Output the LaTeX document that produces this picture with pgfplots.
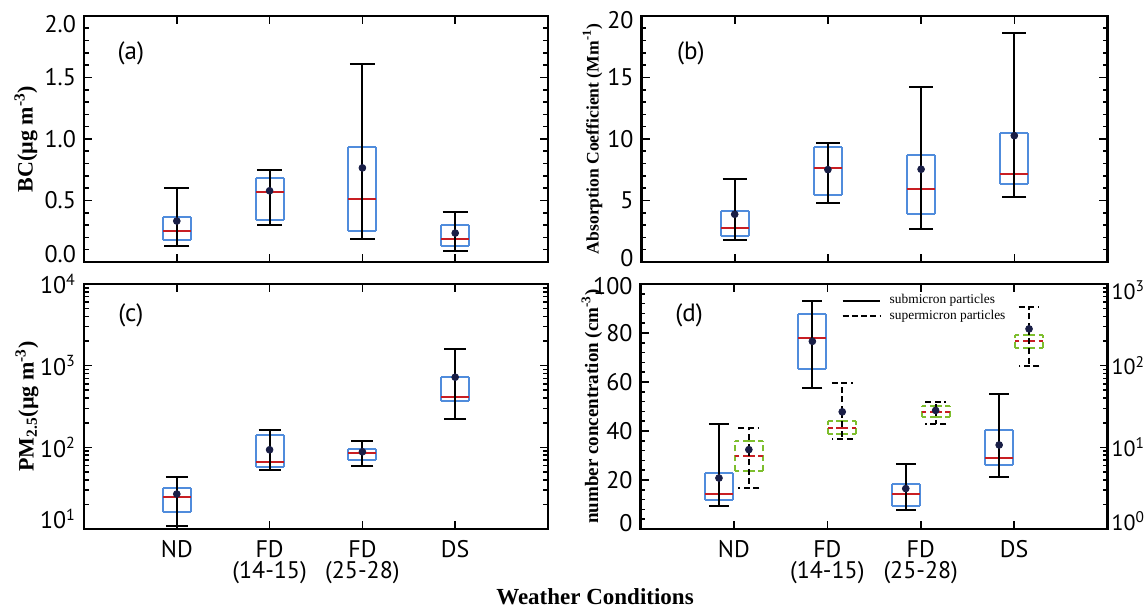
\documentclass[border=0pt]{standalone}
\usepackage{fontspec}
\setmainfont{Liberation Serif}
\newfontfamily\tickfont{PT Sans}
\usepackage{pgfplots}
\usepackage{pgfplotstable}
\pgfplotsset{compat=1.18}

\definecolor{boxblue}{RGB}{80,140,220}
\definecolor{medred}{RGB}{200,30,35}
\definecolor{supgreen}{RGB}{125,190,45}
\definecolor{meanblue}{RGB}{25,30,70}

% x = category, lo/hi = whisker ends, q1/q3 = box, med = median, mean = dot
\pgfplotstableread{
x lo    q1    med   q3    hi    mean
1 0.126 0.175 0.249 0.366 0.600 0.333
2 0.298 0.339 0.571 0.686 0.746 0.579
3 0.186 0.254 0.516 0.937 1.610 0.765
4 0.093 0.131 0.186 0.300 0.404 0.235
}\bcdata

\pgfplotstableread{
x lo   q1   med  q3    hi    mean
1 1.75 2.08 2.76 4.15  6.78  3.88
2 4.78 5.41 7.65 9.34  9.64  7.51
3 2.70 3.91 5.96 8.72  14.23 7.54
4 5.27 6.37 7.13 10.46 18.58 10.27
}\absdata

\pgfplotstableread{
x lo   q1   med  q3   hi   mean
1 10.8 16.0 24.4 32.0 43.6 26.8
2 52.7 57.8 65.9 140  165  93.3
3 59.6 69.8 84.2 95.0 121  88.2
4 221  367  419  730  1620 722
}\pmdata

\pgfplotstableread{
x lo   q1   med  q3   hi   mean
1 9.2  11.9 14.3 22.8 42.7 20.8
2 57.4 65.5 77.8 87.8 93.1 76.6
3 7.8  9.2  14.2 18.4 26.5 16.5
4 21.2 26.1 28.9 40.5 55.1 34.3
}\subdata

\pgfplotstableread{
x lo   q1   med  q3   hi   mean
1 3.19 5.19 7.91 11.9 17.1 9.37
2 12.5 14.5 17.4 21.1 61.5 27.2
3 19.4 23.7 26.7 32.5 36.4 28.3
4 100  166  198  239  529  282
}\supdata

% #1 table, #2 x shift, #3 box colour, #4 extra line style, #5 cap half length
\newcommand{\boxset}[5]{%
  \addplot[draw=none, mark=none, error bars/.cd, y dir=plus, y explicit, error mark=none,
    error bar style={draw=#3, line width=1pt, #4}]
    table[x expr=\thisrow{x}+#2-0.15, y=q1, y error expr=\thisrow{q3}-\thisrow{q1}] {#1};
  \addplot[draw=none, mark=none, error bars/.cd, y dir=plus, y explicit, error mark=none,
    error bar style={draw=#3, line width=1pt, #4}]
    table[x expr=\thisrow{x}+#2+0.15, y=q1, y error expr=\thisrow{q3}-\thisrow{q1}] {#1};
  \addplot[draw=none, mark=none, error bars/.cd, x dir=both, x fixed=0.15, error mark=none,
    error bar style={draw=#3, line width=1pt, #4}]
    table[x expr=\thisrow{x}+#2, y=q1] {#1};
  \addplot[draw=none, mark=none, error bars/.cd, x dir=both, x fixed=0.15, error mark=none,
    error bar style={draw=#3, line width=1pt, #4}]
    table[x expr=\thisrow{x}+#2, y=q3] {#1};
  \addplot[draw=none, mark=none, error bars/.cd, x dir=both, x fixed=0.15, error mark=none,
    error bar style={draw=medred, line width=1pt, #4}]
    table[x expr=\thisrow{x}+#2, y=med] {#1};
  \addplot[only marks, mark=*, mark size=1.7pt, mark options={draw=meanblue, fill=meanblue, solid},
    error bars/.cd, y dir=both, y explicit, error mark=-,
    error mark options={rotate=90, draw=black, line width=1pt, mark size=#5, #4},
    error bar style={draw=black, line width=1pt, #4}]
    table[x expr=\thisrow{x}+#2, y=mean,
      y error plus expr=\thisrow{hi}-\thisrow{mean},
      y error minus expr=\thisrow{mean}-\thisrow{lo}] {#1};
}

% shift an end tick label without changing its box
\newcommand{\up}[2]{\raisebox{#1}[\height][\depth]{#2}}

\tikzset{plabel/.style={font=\tickfont\fontsize{12.5}{14}\selectfont}}

\pgfplotsset{
  panel/.style={
    scale only axis, anchor=south west,
    xmin=0, xmax=5, xtick={1,2,3,4},
    tick align=inside, major tick length=4pt, minor tick length=2.4pt,
    axis line style={line width=1.3pt},
    tick style={black, line width=0.8pt},
    tick label style={font=\tickfont\fontsize{12}{10.5}\selectfont},
    yticklabel style={xshift=-0.5pt},
    xticklabel style={align=center, yshift=-2pt},
    xticklabels={},
  },
  catlabels/.style={xticklabels={ND, FD\\(14-15), FD\\(25-28), DS}},
}

\begin{document}
\begin{tikzpicture}
\path[use as bounding box] (0,0) rectangle (573pt,304.5pt);

% (a)
\begin{axis}[panel, at={(42pt,173.5pt)}, width=232pt, height=123pt,
  ymin=0, ymax=2, ytick={0,0.5,1,1.5,2},
  yticklabels={\up{4pt}{0.0},0.5,1.0,1.5,\up{-4pt}{2.0}},
  minor ytick={0,0.1,...,2.0},
  ylabel={BC(µg m\textsuperscript{-3})},
  ylabel style={font=\bfseries\fontsize{11}{12}\selectfont, at={(axis description cs:-0.125,0.5)}, anchor=center}]
  \boxset{\bcdata}{0}{boxblue}{}{6.3pt}
  \node[plabel] at (rel axis cs:0.101,0.85) {(a)};
\end{axis}

% (b)
\begin{axis}[panel, at={(320.75pt,173.5pt)}, width=233pt, height=123pt,
  ymin=0, ymax=20, ytick={0,5,10,15,20},
  yticklabels={\up{2pt}{0},5,10,15,\up{-2pt}{20}},
  minor ytick={0,1,...,20},
  ylabel={Absorption Coefficient (Mm\textsuperscript{-1})},
  ylabel style={font=\bfseries\fontsize{8.8}{10}\selectfont, at={(axis description cs:-0.105,0.5)}, anchor=center}]
  \boxset{\absdata}{0}{boxblue}{}{6pt}
  \node[plabel] at (rel axis cs:0.106,0.85) {(b)};
\end{axis}

% (c)
\begin{axis}[panel, catlabels, at={(42pt,40pt)}, width=232pt, height=122.5pt,
  ymode=log, ymin=10, ymax=10000, ytick={10,100,1000,10000},
  minor ytick={20,30,40,50,60,70,80,90,200,300,400,500,600,700,800,900,2000,3000,4000,5000,6000,7000,8000,9000},
  yticklabels={\up{5pt}{10\textsuperscript{1}},10\textsuperscript{2},10\textsuperscript{3},10\textsuperscript{4}},
  ylabel={PM\textsubscript{2.5}(µg m\textsuperscript{-3})},
  ylabel style={font=\bfseries\fontsize{11}{12}\selectfont, at={(axis description cs:-0.123,0.5)}, anchor=center}]
  \boxset{\pmdata}{0}{boxblue}{}{5.5pt}
  \node[plabel] at (rel axis cs:0.101,0.873) {(c)};
\end{axis}

% (d) left axis: submicron
\begin{axis}[panel, catlabels, at={(320.25pt,40pt)}, width=233.5pt, height=122.5pt,
  ymin=0, ymax=100, ytick={0,20,40,60,80,100}, ytick pos=left,
  yticklabels={\up{3pt}{0},20,40,60,80,\up{-1pt}{100}},
  minor ytick={0,4,...,100},
  ylabel={number concentration (cm\textsuperscript{-3})},
  ylabel style={font=\bfseries\fontsize{9.5}{10}\selectfont, at={(axis description cs:-0.104,0.5)}, anchor=center},
  legend style={draw=none, fill=none, at={(rel axis cs:0.43,0.975)}, anchor=north west,
    inner sep=0pt, row sep=-2.5pt, column sep=2.5pt, font=\fontsize{6.7}{7}\selectfont, cells={anchor=west}},
  legend image code/.code={\draw[#1] (0pt,0pt) -- (18.5pt,0pt);}]
  \addlegendimage{black, line width=1pt}
  \addlegendentry{submicron particles}
  \addlegendimage{black, line width=1pt, dash pattern=on 3pt off 1.6pt}
  \addlegendentry{supermicron particles}
  \boxset{\subdata}{-0.16}{boxblue}{}{5pt}
  \node[plabel] at (rel axis cs:0.104,0.873) {(d)};
\end{axis}

% (d) right axis: supermicron
\begin{axis}[panel, at={(320.25pt,40pt)}, width=233.5pt, height=122.5pt,
  axis x line=none, axis y line*=right,
  ymode=log, ymin=1, ymax=1000, ytick={1,10,100,1000},
  minor ytick={2,3,4,5,6,7,8,9,20,30,40,50,60,70,80,90,200,300,400,500,600,700,800,900},
  yticklabels={\up{4pt}{10\textsuperscript{0}},10\textsuperscript{1},10\textsuperscript{2},\up{-3pt}{10\textsuperscript{3}}},
  yticklabel style={xshift=-1pt, font=\tickfont\fontsize{11}{12}\selectfont}]
  \boxset{\supdata}{0.16}{supgreen}{dash pattern=on 3pt off 1.8pt}{5.2pt}
\end{axis}

\node[font=\bfseries\fontsize{11.5}{12}\selectfont] at (297.5pt,6pt) {Weather Conditions};
\end{tikzpicture}
\end{document}
